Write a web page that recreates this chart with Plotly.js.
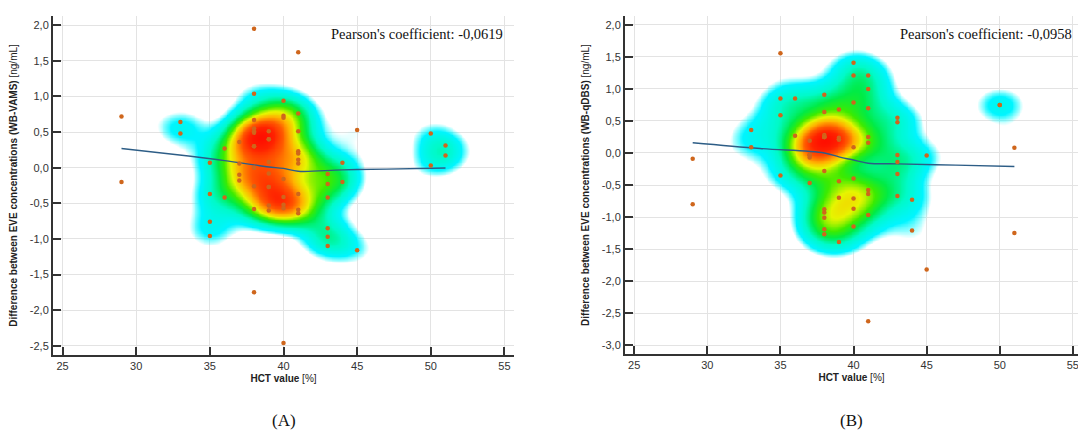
<!DOCTYPE html>
<html>
<head>
<meta charset="utf-8">
<script src="https://cdn.plot.ly/plotly-3.0.1.min.js"></script>
<style>
html,body{margin:0;padding:0;background:#fff;}
#chart{width:1078px;height:432px;}
</style>
</head>
<body>
<div id="chart"></div>
<script>
// ---------- DATA ----------
// Panel A: WB-VAMS (overlapping patients appear as repeated pairs)
const hctA = [29,29, 33,33, 35,35,35,35, 36,36, 37,37,37,37,
  38,38,38,38,38,38,38,38,38,38,38,38,
  39,39,39,39,39,39,39,39,39,
  40,40,40,40,40,40,40,40,
  41,41,41,41,41,41,41,41,41,41,
  43,43,43,43,43,43, 44,44, 45,45, 50,50, 51,51];
const diffA = [0.72,-0.20, 0.64,0.48, 0.07,-0.37,-0.76,-0.96, 0.27,-0.42, 0.36,0.06,-0.10,-0.18,
  1.95,1.04,0.67,0.55,0.51,0.49,0.30,0.30,0.00,-0.26,-0.58,-1.75,
  0.51,0.40,0.40,0.08,-0.08,-0.27,-0.27,-0.53,-0.60,
  0.94,0.73,0.70,-0.16,-0.41,-0.52,-0.57,-2.46,
  1.62,0.76,0.51,0.23,0.20,0.11,0.06,-0.37,-0.59,-0.64,
  -0.09,-0.23,-0.42,-0.85,-0.97,-1.10, 0.07,-0.20, 0.53,-1.16, 0.48,0.03, 0.31,0.17];
const fitXA = [29, 33.7, 36, 38, 39, 40, 41, 44, 47, 51];
const fitYA = [0.27, 0.16, 0.10, 0.04, 0.01, -0.01, -0.05, -0.03, -0.02, -0.005];
const pearsonA = "Pearson's coefficient: -0,0619";

// Panel B: WB-qDBS (overlapping patients appear as repeated pairs)
const hctB = [29,29, 33,33, 35,35,35,35, 36,36, 37,37,37,37,37,37,
  38,38,38,38,38,38,38,38,38,38,38,38,38,
  39,39,39,39,39,39,39,
  40,40,40,40,40,40,40,40,
  41,41,41,41,41,41,41,41,41,
  43,43,43,43,43,43, 44,44, 45,45, 50,50, 51,51];
const diffB = [-0.09,-0.80, 0.36,0.09, 1.56,0.85,0.59,-0.35, 0.85,0.27, 0.19,-0.03,-0.03,-0.03,-0.07,-0.47,
  0.91,0.64,0.28,0.25,0.25,0.25,0.25,-0.28,-0.88,-0.93,-1.01,-1.19,-1.27,
  0.68,0.24,0.21,0.21,-0.44,-0.70,-1.39,
  1.41,1.21,0.79,0.09,-0.40,-0.71,-0.87,-1.15,
  1.21,1.00,0.70,0.25,0.16,-0.58,-0.64,-0.97,-2.63,
  0.55,0.48,-0.03,-0.14,-0.33,-0.67, -0.73,-1.21, -0.04,-1.82, 0.75,0.75, 0.08,-1.25];
const fitXB = [29, 33.6, 38, 39, 40, 41, 43, 47, 51];
const fitYB = [0.16, 0.07, 0.0, -0.06, -0.11, -0.16, -0.17, -0.19, -0.21];
const pearsonB = "Pearson's coefficient: -0,0958";

const xTicks = [25,30,35,40,45,50,55];
const yTicksA = [2,1.5,1,0.5,0,-0.5,-1,-1.5,-2,-2.5];
const yTicksB = [2,1.5,1,0.5,0,-0.5,-1,-1.5,-2,-2.5,-3];
const xTitle = "<b>HCT value</b> [%]";
const yTitleA = "<b>Difference between EVE concentrations (WB-VAMS)</b> [ng/mL]";
const yTitleB = "<b>Difference between EVE concentrations (WB-qDBS)</b> [ng/mL]";
const panelLabels = ["(A)", "(B)"];

// ---------- density (kernel estimate of the points) ----------
function density(xs, ys, xr, yr, sx, sy, nx, ny) {
  const gx = [], gy = [], z = [];
  for (let i = 0; i < nx; i++) gx.push(xr[0] + (xr[1]-xr[0])*i/(nx-1));
  for (let j = 0; j < ny; j++) gy.push(yr[0] + (yr[1]-yr[0])*j/(ny-1));
  let mx = 0;
  for (let j = 0; j < ny; j++) {
    const row = [];
    for (let i = 0; i < nx; i++) {
      let s = 0;
      for (let k = 0; k < xs.length; k++) {
        const dx = (gx[i]-xs[k])/sx, dy = (gy[j]-ys[k])/sy;
        const e = dx*dx + dy*dy;
        if (e < 30) s += Math.exp(-0.5*e);
      }
      row.push(s);
      if (s > mx) mx = s;
    }
    z.push(row);
  }
  return {gx, gy, z, mx};
}
function scaleFor(mx) {
  const k0 = 1.08/mx, k1 = 1.7/mx;
  const r = (f) => k1 + (1-k1)*f;
  return [
    [0,'rgba(0,255,255,0)'],
    [k0,'rgba(0,255,255,0)'],
    [k1,'rgba(0,245,255,1)'],
    [r(0.13),'rgb(0,250,200)'],
    [r(0.25),'rgb(0,235,70)'],
    [r(0.35),'rgb(60,235,0)'],
    [r(0.47),'rgb(230,245,0)'],
    [r(0.59),'rgb(255,180,0)'],
    [r(0.73),'rgb(255,90,0)'],
    [r(0.88),'rgb(255,35,0)'],
    [1,'rgb(255,15,0)']
  ];
}

const xrA = [24.35, 55.65], yrA = [-2.63, 2.13];
const xrB = [24.37, 55.35], yrB = [-3.14, 2.14];
const dA = density(hctA, diffA, xrA, yrA, 1.35, 0.20, 260, 220);
const dB = density(hctB, diffB, xrB, yrB, 1.4, 0.235, 260, 220);

const dotColor = '#cf661c';
const lineColor = '#2d5d86';

const traces = [
  {type:'heatmap', x:dA.gx, y:dA.gy, z:dA.z, zmin:0, zmax:dA.mx, zsmooth:'best',
   colorscale:scaleFor(dA.mx), showscale:false, hoverinfo:'skip', xaxis:'x', yaxis:'y'},
  {type:'heatmap', x:dB.gx, y:dB.gy, z:dB.z, zmin:0, zmax:dB.mx, zsmooth:'best',
   colorscale:scaleFor(dB.mx), showscale:false, hoverinfo:'skip', xaxis:'x2', yaxis:'y2'},
  {type:'scatter', mode:'lines', x:fitXA, y:fitYA, line:{color:lineColor, width:1.4, shape:'spline'},
   xaxis:'x', yaxis:'y', hoverinfo:'skip'},
  {type:'scatter', mode:'lines', x:fitXB, y:fitYB, line:{color:lineColor, width:1.4, shape:'spline'},
   xaxis:'x2', yaxis:'y2', hoverinfo:'skip'},
  {type:'scatter', mode:'markers', x:hctA, y:diffA, marker:{color:dotColor, size:4.5},
   xaxis:'x', yaxis:'y'},
  {type:'scatter', mode:'markers', x:hctB, y:diffB, marker:{color:dotColor, size:4.5},
   xaxis:'x2', yaxis:'y2'}
];

const tickFont = {family:'Liberation Sans, Arial, sans-serif', size:11, color:'#333'};
const titleFont = {family:'Liberation Sans, Arial, sans-serif', size:10, color:'#222'};
function xax(range, domain, anchor) {
  return {range, domain, anchor, tickvals:xTicks, ticktext:xTicks.map(String),
    showgrid:true, gridcolor:'#e3e3e3', gridwidth:1, zeroline:false,
    showline:true, linecolor:'#333', linewidth:2, ticks:'inside', ticklen:8, tickwidth:2, tickcolor:'#333',
    ticklabeloverflow:'allow',
    tickfont:tickFont, title:{text:xTitle, font:titleFont, standoff:4}, automargin:false, fixedrange:true};
}
function yax(range, domain, anchor, ticks, title) {
  return {range, domain, anchor, tickvals:ticks, ticktext:ticks.map(v => v.toFixed(1).replace('.', ',')),
    showgrid:true, gridcolor:'#e3e3e3', gridwidth:1, zeroline:false,
    showline:true, linecolor:'#333', linewidth:2, ticks:'inside', ticklen:8, tickwidth:2, tickcolor:'#333',
    tickfont:tickFont, title:{text:title, font:titleFont, standoff:10}, automargin:false, fixedrange:true};
}

const layout = {
  width:1078, height:432, margin:{l:0, r:0, t:0, b:0},
  paper_bgcolor:'#fff', plot_bgcolor:'#fff', showlegend:false, hovermode:false,
  xaxis: xax(xrA, [53/1078, 514/1078], 'y'),
  yaxis: yax(yrA, [77/432, 416/432], 'x', yTicksA, yTitleA),
  xaxis2: xax(xrB, [625/1078, 1], 'y2'),
  yaxis2: yax(yrB, [78/432, 416/432], 'x2', yTicksB, yTitleB),
  annotations: [
    {text:pearsonA, xref:'paper', yref:'paper', x:505/1078, y:(432-34)/432, xanchor:'right', yanchor:'middle',
     showarrow:false, font:{family:'Liberation Serif, serif', size:14.5, color:'#111'}},
    {text:pearsonB, xref:'paper', yref:'paper', x:1074/1078, y:(432-34)/432, xanchor:'right', yanchor:'middle',
     showarrow:false, font:{family:'Liberation Serif, serif', size:14.5, color:'#111'}},
    {text:panelLabels[0], xref:'paper', yref:'paper', x:284/1078, y:(432-420)/432, xanchor:'center', yanchor:'middle',
     showarrow:false, font:{family:'Liberation Serif, serif', size:17, color:'#111'}},
    {text:panelLabels[1], xref:'paper', yref:'paper', x:851/1078, y:(432-420)/432, xanchor:'center', yanchor:'middle',
     showarrow:false, font:{family:'Liberation Serif, serif', size:17, color:'#111'}}
  ]
};

Plotly.newPlot('chart', traces, layout, {staticPlot:true, displayModeBar:false});
</script>
</body>
</html>
